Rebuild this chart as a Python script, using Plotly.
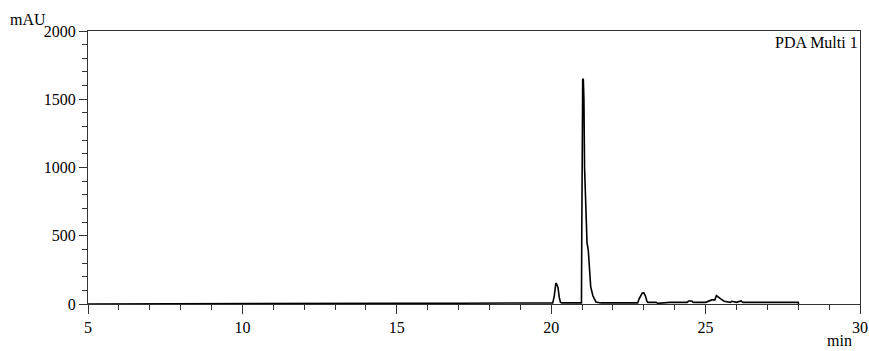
import plotly.graph_objects as go

# Retention time (min) and absorbance (mAU)
time_min = [5.0, 6.0, 9.0, 11.3, 15.0, 17.0, 19.5, 20.05, 20.1, 20.15, 20.18, 20.22, 20.26, 20.3, 20.35,
            20.98, 20.99, 21.0, 21.02, 21.04, 21.06, 21.08, 21.12, 21.16, 21.2, 21.24, 21.28, 21.35, 21.45, 21.6,
            22.5, 22.8, 22.85, 22.95, 23.0, 23.05, 23.1, 23.13, 23.4, 23.45, 23.85, 24.4, 24.45, 24.55, 24.6,
            25.0, 25.2, 25.3, 25.35, 25.45, 25.5, 25.6, 25.8, 25.85, 25.95, 26.0, 26.15, 26.2, 26.25, 28.0, 28.01]
absorbance = [0, 1, 2, 4, 5, 6, 7, 8, 60, 154, 145, 120, 50, 12, 8,
              8, 500, 1400, 1650, 1645, 1500, 1000, 700, 450, 395, 250, 125, 60, 15, 8,
              6, 8, 40, 80, 82, 60, 20, 12, 12, 5, 12, 12, 22, 22, 12,
              12, 30, 30, 62, 40, 35, 20, 12, 20, 12, 12, 22, 12, 12, 12, 0]

x_ticks = [5, 10, 15, 20, 25, 30]
y_ticks = [0, 500, 1000, 1500, 2000]

font_family = "Liberation Serif, Times New Roman, serif"

fig = go.Figure()
fig.add_trace(go.Scatter(x=time_min, y=absorbance, mode="lines",
                         line=dict(color="black", width=1.6), showlegend=False,
                         hoverinfo="skip"))

fig.update_layout(
    width=869, height=351,
    margin=dict(l=88, r=9, t=31, b=47),
    paper_bgcolor="white", plot_bgcolor="white",
    font=dict(family=font_family, size=16, color="black"),
    xaxis=dict(range=[5, 30], tickvals=x_ticks, ticks="outside", ticklen=9, tickwidth=1.2,
               tickcolor="#333", showline=True, linecolor="#333", linewidth=1.2, mirror=True,
               showgrid=False, zeroline=False, automargin=False,
               minor=dict(dtick=1, ticks="outside", ticklen=5, tickwidth=1.2, tickcolor="#333", showgrid=False),
               tickfont=dict(family=font_family, size=16)),
    yaxis=dict(range=[0, 2000], tickvals=y_ticks, ticks="outside", ticklen=8, tickwidth=1.2,
               tickcolor="#333", showline=True, linecolor="#333", linewidth=1.2, mirror=True,
               showgrid=False, zeroline=False, automargin=False,
               minor=dict(dtick=100, ticks="outside", ticklen=5, tickwidth=1.2, tickcolor="#333", showgrid=False),
               tickfont=dict(family=font_family, size=16)),
    annotations=[
        dict(text="mAU", xref="paper", yref="paper", x=0, y=1.0, xanchor="right", yanchor="middle",
             showarrow=False, font=dict(family=font_family, size=16), xshift=-40, yshift=12),
        dict(text="min", xref="paper", yref="paper", x=1.0, y=0, xanchor="right", yanchor="middle",
             showarrow=False, font=dict(family=font_family, size=16), yshift=-36, xshift=-6),
        dict(text="PDA Multi 1", xref="paper", yref="paper", x=1.0, y=1.0, xanchor="right", yanchor="top",
             showarrow=False, font=dict(family=font_family, size=16), yshift=-1),
    ],
)

fig.write_html("out.html")
